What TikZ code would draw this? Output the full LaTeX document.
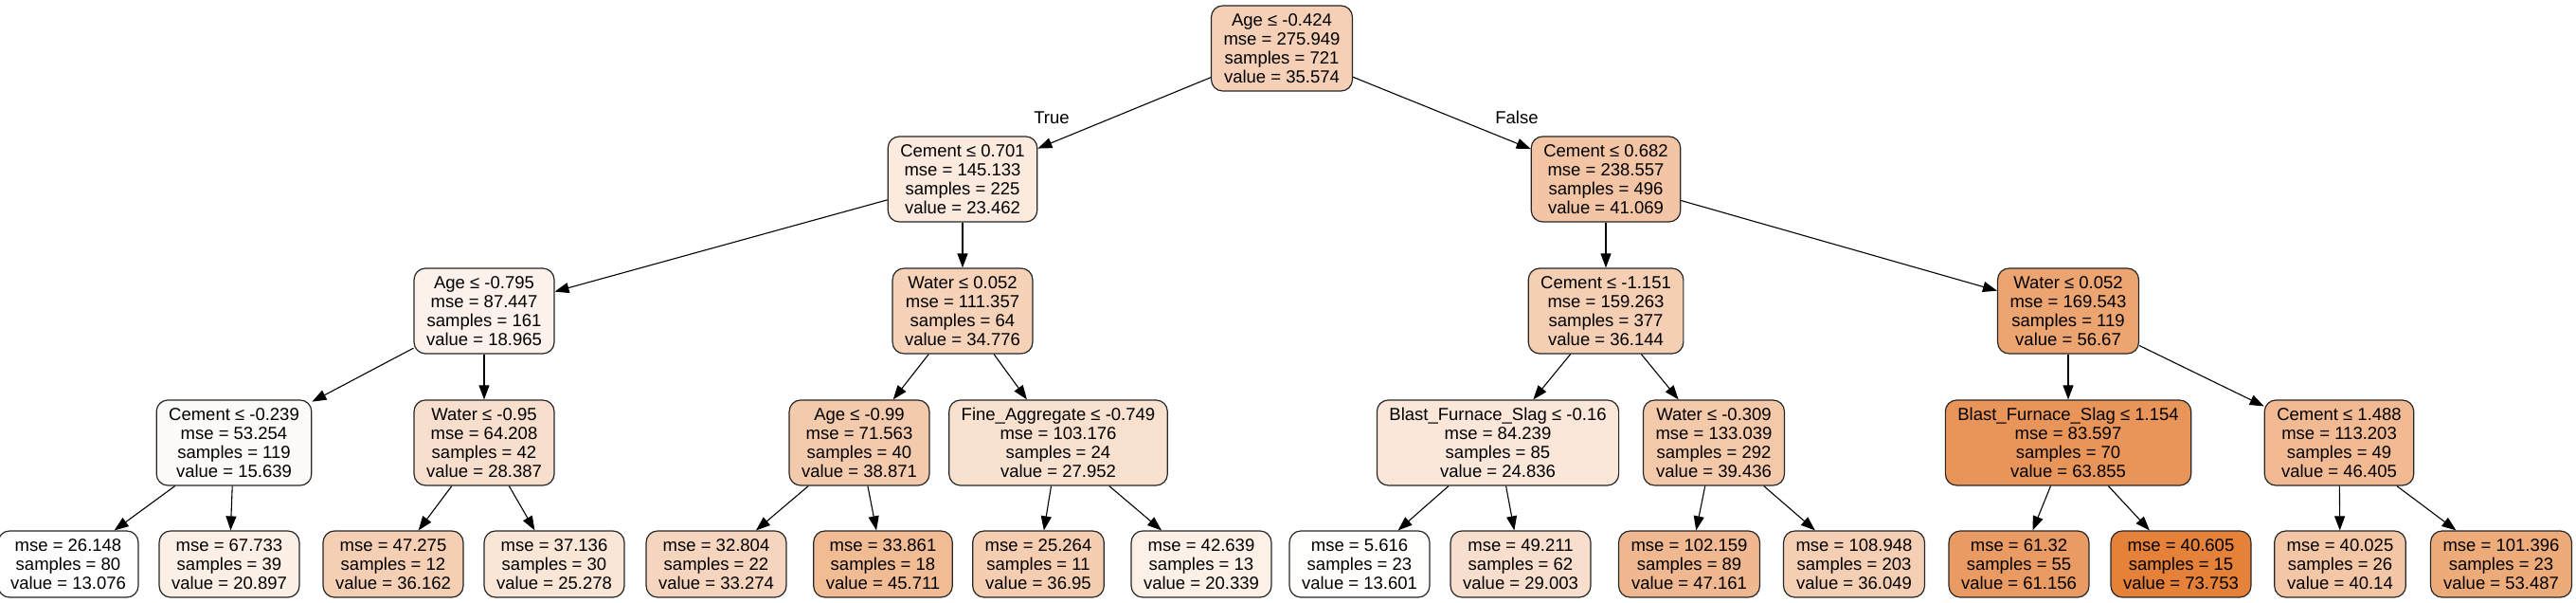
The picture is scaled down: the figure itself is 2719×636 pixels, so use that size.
\documentclass[tikz,border=0pt]{standalone}
\usepackage{fontspec}
\setmainfont{Liberation Sans}
\usetikzlibrary{arrows.meta}
\definecolor{treeorange}{RGB}{229,129,57}
\tikzset{
  treenode/.style={draw=black!85, line width=1.2pt, rounded corners=12pt, align=center,
    inner xsep=13pt, inner ysep=3pt, font=\fontsize{18.5}{20}\selectfont},
  split/.style={treenode, minimum height=90pt},
  leaf/.style={treenode, minimum height=70pt},
  branch/.style={-{Triangle[length=15pt,width=11pt]}, line width=1.1pt},
  edgelabel/.style={font=\fontsize{18.5}{20}\selectfont}
}
\begin{document}
\begin{tikzpicture}[x=1pt,y=-1pt]
    \useasboundingbox (0,0) rectangle (2719,636);

    % level 0
    \node[split, fill=treeorange!37!white] (root) at (1353,51) {Age ≤ -0.424\\mse = 275.949\\samples = 721\\value = 35.574};

    % level 1
    \node[split, fill=treeorange!17!white] (L) at (1016,189) {Cement ≤ 0.701\\mse = 145.133\\samples = 225\\value = 23.462};
    \node[split, fill=treeorange!46!white] (R) at (1695,189) {Cement ≤ 0.682\\mse = 238.557\\samples = 496\\value = 41.069};

    % level 2
    \node[split, fill=treeorange!10!white] (LL) at (511,328) {Age ≤ -0.795\\mse = 87.447\\samples = 161\\value = 18.965};
    \node[split, fill=treeorange!36!white] (LR) at (1016,328) {Water ≤ 0.052\\mse = 111.357\\samples = 64\\value = 34.776};
    \node[split, fill=treeorange!38!white] (RL) at (1695,328) {Cement ≤ -1.151\\mse = 159.263\\samples = 377\\value = 36.144};
    \node[split, fill=treeorange!72!white] (RR) at (2183,328) {Water ≤ 0.052\\mse = 169.543\\samples = 119\\value = 56.67};

    % level 3
    \node[split, fill=treeorange!4!white] (LLL) at (247,467) {Cement ≤ -0.239\\mse = 53.254\\samples = 119\\value = 15.639};
    \node[split, fill=treeorange!25!white] (LLR) at (511,467) {Water ≤ -0.95\\mse = 64.208\\samples = 42\\value = 28.387};
    \node[split, fill=treeorange!42!white] (LRL) at (907,467) {Age ≤ -0.99\\mse = 71.563\\samples = 40\\value = 38.871};
    \node[split, fill=treeorange!24!white] (LRR) at (1117,467) {Fine\_Aggregate ≤ -0.749\\mse = 103.176\\samples = 24\\value = 27.952};
    \node[split, fill=treeorange!19!white] (RLL) at (1581,467) {Blast\_Furnace\_Slag ≤ -0.16\\mse = 84.239\\samples = 85\\value = 24.836};
    \node[split, fill=treeorange!43!white] (RLR) at (1809,467) {Water ≤ -0.309\\mse = 133.039\\samples = 292\\value = 39.436};
    \node[split, fill=treeorange!84!white] (RRL) at (2183,467) {Blast\_Furnace\_Slag ≤ 1.154\\mse = 83.597\\samples = 70\\value = 63.855};
    \node[split, fill=treeorange!55!white] (RRR) at (2469,467) {Cement ≤ 1.488\\mse = 113.203\\samples = 49\\value = 46.405};

    % leaves
    \node[leaf, fill=white] (LLLL) at (72,595) {mse = 26.148\\samples = 80\\value = 13.076};
    \node[leaf, fill=treeorange!13!white] (LLLR) at (242,595) {mse = 67.733\\samples = 39\\value = 20.897};
    \node[leaf, fill=treeorange!38!white] (LLRL) at (415,595) {mse = 47.275\\samples = 12\\value = 36.162};
    \node[leaf, fill=treeorange!20!white] (LLRR) at (585,595) {mse = 37.136\\samples = 30\\value = 25.278};
    \node[leaf, fill=treeorange!33!white] (LRLL) at (756,595) {mse = 32.804\\samples = 22\\value = 33.274};
    \node[leaf, fill=treeorange!54!white] (LRLR) at (932,595) {mse = 33.861\\samples = 18\\value = 45.711};
    \node[leaf, fill=treeorange!39!white] (LRRL) at (1096,595) {mse = 25.264\\samples = 11\\value = 36.95};
    \node[leaf, fill=treeorange!12!white] (LRRR) at (1268,595) {mse = 42.639\\samples = 13\\value = 20.339};
    \node[leaf, fill=treeorange!1!white] (RLLL) at (1435,595) {mse = 5.616\\samples = 23\\value = 13.601};
    \node[leaf, fill=treeorange!26!white] (RLLR) at (1605,595) {mse = 49.211\\samples = 62\\value = 29.003};
    \node[leaf, fill=treeorange!56!white] (RLRL) at (1783,595) {mse = 102.159\\samples = 89\\value = 47.161};
    \node[leaf, fill=treeorange!38!white] (RLRR) at (1957,595) {mse = 108.948\\samples = 203\\value = 36.049};
    \node[leaf, fill=treeorange!79!white] (RRLL) at (2131,595) {mse = 61.32\\samples = 55\\value = 61.156};
    \node[leaf, fill=treeorange] (RRLR) at (2302,595) {mse = 40.605\\samples = 15\\value = 73.753};
    \node[leaf, fill=treeorange!45!white] (RRRL) at (2470,595) {mse = 40.025\\samples = 26\\value = 40.14};
    \node[leaf, fill=treeorange!67!white] (RRRR) at (2640,595) {mse = 101.396\\samples = 23\\value = 53.487};

    % branches
    \foreach \a/\b in {root/L, root/R, L/LL, L/LR, R/RL, R/RR,
        LL/LLL, LL/LLR, LR/LRL, LR/LRR, RL/RLL, RL/RLR, RR/RRL, RR/RRR,
        LLL/LLLL, LLL/LLLR, LLR/LLRL, LLR/LLRR, LRL/LRLL, LRL/LRLR, LRR/LRRL, LRR/LRRR,
        RLL/RLLL, RLL/RLLR, RLR/RLRL, RLR/RLRR, RRL/RRLL, RRL/RRLR, RRR/RRRL, RRR/RRRR}
        \draw[branch] (\a) -- (\b);

    \node[edgelabel] (truelbl) at (1110,124) {True};
    \node[edgelabel] (falselbl) at (1601,124) {False};
\end{tikzpicture}
\end{document}
